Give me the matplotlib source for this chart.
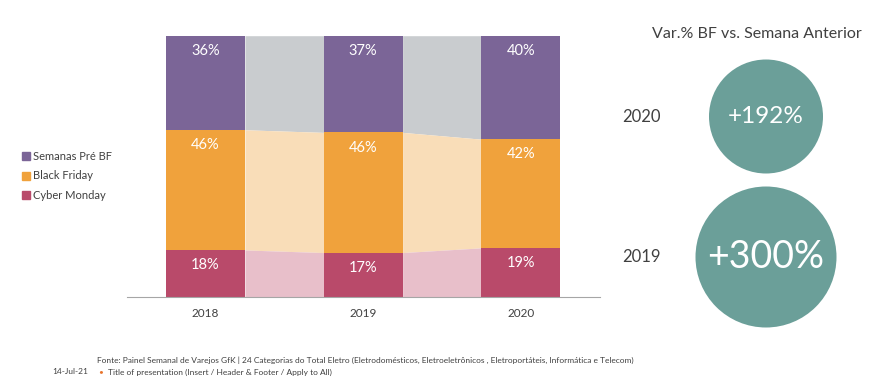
import numpy as np
import matplotlib
matplotlib.use('Agg')
import matplotlib.pyplot as plt
from matplotlib.lines import Line2D
from matplotlib.patches import Circle

plt.rcParams['font.family'] = ['Lato', 'DejaVu Sans']

# --- data ---
years = ['2018', '2019', '2020']
series = ['Semanas Pré BF', 'Black Friday', 'Cyber Monday']
pre_bf = [36, 37, 40]
black_friday = [46, 46, 42]
cyber_monday = [18, 17, 19]

var_years = ['2020', '2019']
var_values = ['+192%', '+300%']

colors = ['#7b6597', '#f0a23c', '#b94a6a']
light = ['#c9cccf', '#f9ddb8', '#e8bfca']
text_grey = '#404040'

fig = plt.figure(figsize=(8.91, 3.88), dpi=100)
W, H = 891.0, 388.0

# --- stacked bars (top to bottom: pre BF, BF, cyber monday) ---
ax = fig.add_axes([126.7 / W, 1 - 297 / H, 473 / W, (297 - 35.7) / H])
vals = np.array([pre_bf, black_friday, cyber_monday], dtype=float)
shares = vals / vals.sum(axis=0) * 100
x = np.arange(len(years))
bw = 0.5

# segment i spans [bottom_i, top_i], stacked down from 100
tops = 100 - np.vstack([np.zeros(len(years)), np.cumsum(shares, axis=0)[:-1]])
bottoms = tops - shares

for i in range(len(series)):
    # connectors between bars
    for j in range(len(years) - 1):
        xs = [x[j] + bw / 2, x[j + 1] - bw / 2]
        ax.fill_between(xs, [bottoms[i, j], bottoms[i, j + 1]],
                        [tops[i, j], tops[i, j + 1]], color=light[i], lw=0)
    ax.bar(x, shares[i], bw, bottom=bottoms[i], color=colors[i], lw=0)
    for j in range(len(years)):
        ax.text(x[j], tops[i, j] - 5.8, '{:d}%'.format(int(vals[i, j])),
                ha='center', va='center', color='white', fontsize=10.5)

ax.set_xlim(-0.5, 2.5)
ax.set_ylim(0, 100)
ax.set_xticks(x)
ax.set_xticklabels(years, fontsize=8.5, color=text_grey)
ax.tick_params(axis='x', length=0, pad=8)
ax.set_yticks([])
for s in ['top', 'right', 'left']:
    ax.spines[s].set_visible(False)
ax.spines['bottom'].set_color('#a6a6a6')

handles = [Line2D([], [], marker='s', ls='none', color=c, markersize=5.5) for c in colors]
fig.legend(handles, series, loc='center left', bbox_to_anchor=(13 / W, 1 - 176 / H),
           frameon=False, fontsize=8, handlelength=0.6, handletextpad=0.3,
           labelspacing=0.75, labelcolor=text_grey)

# --- bubbles on the right ---
ov = fig.add_axes([0, 0, 1, 1])
ov.set_xlim(0, W)
ov.set_ylim(H, 0)
ov.axis('off')
ov.text(757, 34, 'Var.% BF vs. Semana Anterior', ha='center', va='center',
        fontsize=11.5, color=text_grey)
cy = [116.5, 257]
radius = [57, 70.5]
fsize = [17.5, 27]
for k in range(len(var_years)):
    ov.add_patch(Circle((766, cy[k]), radius[k], color='#6b9f99', lw=0))
    ov.text(766, cy[k], var_values[k], ha='center', va='center',
            color='white', fontsize=fsize[k])
    ov.text(641, cy[k], var_years[k], ha='center', va='center',
            fontsize=12, color=text_grey)

# --- footer ---
fig.text(97 / W, 1 - 360 / H,
         'Fonte: Painel Semanal de Varejos GfK | 24 Categorias do Total Eletro '
         '(Eletrodomésticos, Eletroeletrônicos , Eletroportáteis, Informática e Telecom)',
         fontsize=6, color=text_grey, va='center')
fig.text(52 / W, 1 - 372 / H, '14-Jul-21', fontsize=6, color=text_grey, va='center')
fig.text(98 / W, 1 - 372 / H, '•', fontsize=6, color='#e8742c', va='center')
fig.text(108 / W, 1 - 372 / H, 'Title of presentation (Insert / Header & Footer / Apply to All)',
         fontsize=6, color=text_grey, va='center')

fig.savefig('out.png', dpi=100)
